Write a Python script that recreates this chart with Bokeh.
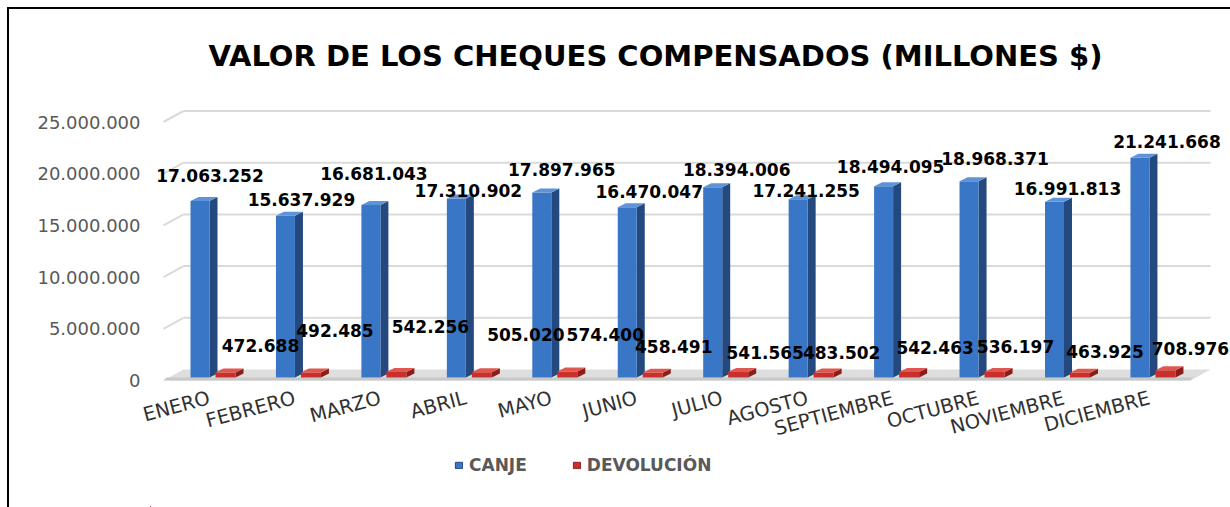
import math
from bokeh.plotting import figure
from bokeh.layouts import column
from bokeh.models import (Range1d, FixedTicker, Legend, LegendItem, ColumnDataSource,
                          Label, CustomJSTickFormatter)
from bokeh.core.properties import value
from bokeh.embed import file_html
from bokeh.resources import INLINE

# ---------------- data ----------------
months = ["ENERO", "FEBRERO", "MARZO", "ABRIL", "MAYO", "JUNIO", "JULIO",
          "AGOSTO", "SEPTIEMBRE", "OCTUBRE", "NOVIEMBRE", "DICIEMBRE"]
canje = [17063252, 15637929, 16681043, 17310902, 17897965, 16470047,
         18394006, 17241255, 18494095, 18968371, 16991813, 21241668]
devolucion = [472688, 492485, 542256, 505020, 574400, 458491,
              541565, 483502, 542463, 536197, 463925, 708976]
y_ticks = [0, 5000000, 10000000, 15000000, 20000000, 25000000]
y_tick_labels = ["0", "5.000.000", "10.000.000", "15.000.000", "20.000.000", "25.000.000"]
series_names = ["CANJE", "DEVOLUCIÓN"]
title_text = "VALOR DE LOS CHEQUES COMPENSADOS (MILLONES $)"

# ---------------- layout (pixel offsets of the value labels) ----------------
canje_lbl_dx = [6, 12, -1, 8, 16, 18, 20, 4, 3, 22, 9, 23]
canje_lbl_dy = [-26, -16, -32, -8, -23, -16, -18, -9, -20, -23, -13, -16]
dev_lbl_dx = [31, 20, 30, 40, 34, 17, 23, 14, 22, 17, 21, 21]
dev_lbl_dy = [-27, -42, -45, -38, -37, -26, -19, -20, -24, -25, -21, -22]


def fmt(v):
    return f"{v:,}".replace(",", ".")


O = 9                      # canvas origin on the page (after the frame border)
SPLIT = 455                # page y where the legend strip starts
W = 1230 - O
H1 = SPLIT - O             # chart figure height
H2 = 507 - SPLIT           # legend strip height
FL, FR, FT, FB = 150, 1230, 30, 385   # plot frame, page pixels
GL = 163                   # page x where the 3D grid / floor starts
BL, BR, BT = FL - O, 0, FT - O
BB = H1 - (FB - O)
FW, FH = FR - FL, FB - FT
PXC = 85.45          # px per category
UY = 96712.0         # data units per px (vertical)
T0 = 209             # page x of first category tick
Z = 377              # page y of value 0
x0 = (FL - T0) / PXC
x1 = x0 + FW / PXC
y0 = -(FB - Z) * UY
y1 = y0 + FH * UY


def px(n):
    return n / PXC


def py(n):
    return n * UY


n = len(months)

p = figure(width=W, height=H1, x_range=Range1d(x0, x1), y_range=Range1d(y0, y1),
           output_backend="svg", toolbar_location=None,
           min_border_left=BL, min_border_right=BR, min_border_top=BT, min_border_bottom=BB)
p.outline_line_color = None
p.xgrid.visible = False
p.ygrid.visible = False
p.background_fill_color = "white"
p.border_fill_color = "white"

# ---------------- floor and 3D gridlines ----------------
gx_start = (GL - T0) / PXC
depth_x = px(20)
front_y = -py(3)
back_y = py(8)
xr_back = gx_start + px(1210 - GL)
p.patch([gx_start, gx_start + depth_x, xr_back, xr_back - depth_x],
        [front_y, back_y, back_y, front_y],
        fill_color="#DEDEDE", line_color=None)
p.patch([gx_start, xr_back - depth_x, xr_back - depth_x + px(3), gx_start + px(3)],
        [front_y, front_y, front_y + py(3), front_y + py(3)],
        fill_color="#C8C8C8", line_color=None)

gx0, gy0, gx1, gy1 = [], [], [], []
for t in y_ticks[1:]:
    gx0.append(gx_start); gy0.append(t + front_y); gx1.append(gx_start + depth_x); gy1.append(t + back_y)
    gx0.append(gx_start + depth_x); gy0.append(t + back_y); gx1.append(xr_back); gy1.append(t + back_y)
p.segment(gx0, gy0, gx1, gy1, line_color="#DADADA", line_width=2)


# ---------------- 3D bars ----------------
def bar3d(center_px, width_px, vals, dxp, dyp):
    dx, dy = px(dxp), py(dyp)
    F = ([], [])
    S = ([], [])
    T = ([], [])
    for i, v in enumerate(vals):
        xl = i + px(center_px - width_px / 2.0)
        xr = xl + px(width_px)
        F[0].append([xl, xr, xr, xl]); F[1].append([0, 0, v, v])
        S[0].append([xr, xr + dx, xr + dx, xr]); S[1].append([0, dy, v + dy, v])
        T[0].append([xl, xr, xr + dx, xl + dx]); T[1].append([v, v, v + dy, v + dy])
    return F, S, T


BLUE_C = 199.5 - T0     # centre of blue front face, px from tick
RED_C = 225 - T0        # centre of red front face, px from tick
BLUE_COLORS = ("#24497E", "#3A76C6", "#5F93D8")
RED_COLORS = ("#8B1E1B", "#C9302C", "#E0574F")

bF, bS, bT = bar3d(BLUE_C, 19, canje, 8, 4)
p.patches(bS[0], bS[1], fill_color=BLUE_COLORS[0], line_color=None)
p.patches(bF[0], bF[1], fill_color=BLUE_COLORS[1], line_color=None)
p.patches(bT[0], bT[1], fill_color=BLUE_COLORS[2], line_color=None)

rF, rS, rT = bar3d(RED_C, 20, devolucion, 8, 4)
p.patches(rS[0], rS[1], fill_color=RED_COLORS[0], line_color=None)
p.patches(rF[0], rF[1], fill_color=RED_COLORS[1], line_color=None)
p.patches(rT[0], rT[1], fill_color=RED_COLORS[2], line_color=None)

# ---------------- value labels ----------------
src_c = ColumnDataSource(dict(x=[i + px(BLUE_C + 4) for i in range(n)], y=canje,
                              text=[fmt(v) for v in canje], xo=canje_lbl_dx, yo=canje_lbl_dy))
src_d = ColumnDataSource(dict(x=[i + px(RED_C + 4) for i in range(n)], y=devolucion,
                              text=[fmt(v) for v in devolucion], xo=dev_lbl_dx, yo=dev_lbl_dy))
for src in (src_c, src_d):
    p.text(x="x", y="y", text="text", x_offset="xo", y_offset="yo", source=src,
           text_align="center", text_baseline="middle",
           text_font=value("DejaVu Sans"), text_font_style="bold",
           text_font_size="17px", text_color="#000000")

# ---------------- axes ----------------
p.xaxis.ticker = FixedTicker(ticks=list(range(n)))
p.xaxis.major_label_overrides = {i: m for i, m in enumerate(months)}
p.xaxis.major_label_orientation = math.radians(15)
p.xaxis.axis_line_color = None
p.xaxis.major_tick_line_color = None
p.xaxis.minor_tick_line_color = None
p.xaxis.major_tick_out = 0
p.xaxis.major_tick_in = 0
p.xaxis.major_label_text_font = "DejaVu Sans"
p.xaxis.major_label_text_font_size = "19.5px"
p.xaxis.major_label_text_color = "#303030"
p.xaxis.major_label_standoff = 12

p.yaxis.ticker = FixedTicker(ticks=[t + front_y for t in y_ticks])
p.yaxis.formatter = CustomJSTickFormatter(
    args=dict(vals=y_ticks, labels=y_tick_labels, off=front_y),
    code="""
const i = vals.findIndex((v) => Math.abs(v + off - tick) < 1);
return i >= 0 ? labels[i] : "";
""")
p.yaxis.axis_line_color = None
p.yaxis.major_tick_line_color = None
p.yaxis.minor_tick_line_color = None
p.yaxis.major_tick_out = 0
p.yaxis.major_tick_in = 0
p.yaxis.major_label_standoff = 10
p.yaxis.major_label_text_font = "DejaVu Sans"
p.yaxis.major_label_text_font_size = "18px"
p.yaxis.major_label_text_color = "#595959"

# ---------------- title ----------------
p.add_layout(Label(x=(n - 1) / 2.0 + px(655 - (T0 + (n - 1) / 2.0 * PXC)), y=y1 - py(25),
                   text=title_text, text_align="center", text_baseline="middle",
                   text_font="DejaVu Sans", text_font_style="bold",
                   text_font_size="29px", text_color="#000000"))

# ---------------- legend strip ----------------
q = figure(width=W, height=H2, x_range=Range1d(0, W), y_range=Range1d(0, H2),
           output_backend="svg", toolbar_location=None,
           x_axis_location=None, y_axis_location=None, min_border=0)
q.outline_line_color = None
q.xgrid.visible = False
q.ygrid.visible = False
q.background_fill_color = "white"
q.border_fill_color = "white"
r_c = q.vbar(x=[-1000], top=[1], width=1, fill_color=BLUE_COLORS[1], line_color=BLUE_COLORS[0])
r_d = q.vbar(x=[-1000], top=[1], width=1, fill_color=RED_COLORS[1], line_color=RED_COLORS[0])
legend = Legend(items=[LegendItem(label=series_names[0], renderers=[r_c]),
                       LegendItem(label=series_names[1], renderers=[r_d])],
                orientation="horizontal", location=(455 - O - (BL + 1), H2 - (475 - SPLIT)),
                glyph_width=9, glyph_height=8, label_standoff=6, spacing=45,
                padding=0, margin=0, border_line_color=None, background_fill_alpha=0,
                label_text_font="DejaVu Sans", label_text_font_style="bold",
                label_text_font_size="17px", label_text_color="#595959")
q.add_layout(legend)

layout = column(p, q, spacing=0,
                styles={"margin-left": "7px", "margin-top": "7px",
                        "border-left": "2px solid #000000", "border-top": "2px solid #000000"})

open("out.html", "w").write(file_html(layout, INLINE))
